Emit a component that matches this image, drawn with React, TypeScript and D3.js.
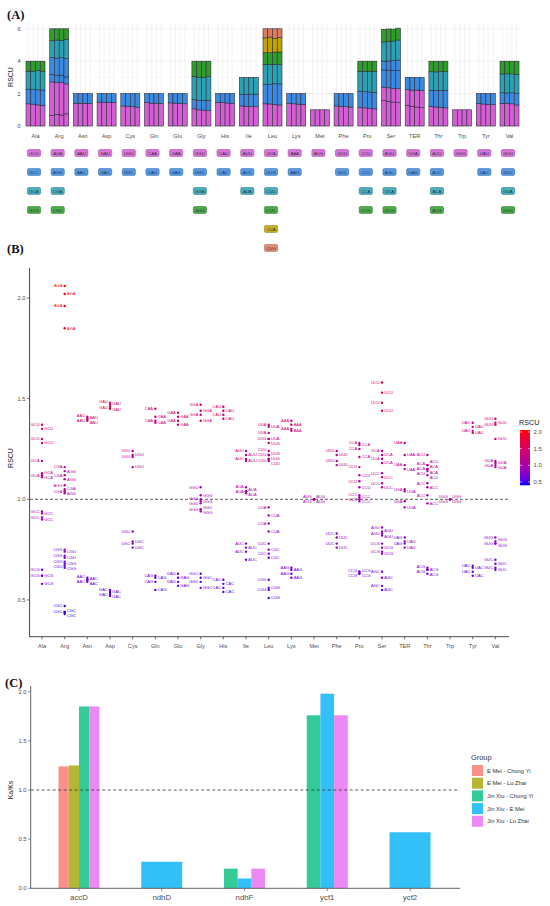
import React from "react";
import * as d3 from "d3";

// ---------------- DATA ----------------
const aminoAcids = ["Ala","Arg","Asn","Asp","Cys","Gln","Glu","Gly","His","Ile","Leu","Lys","Met","Phe","Pro","Ser","TER","Thr","Trp","Tyr","Val"];

// codon label boxes shown under panel A (one row per colour group)
const boxRows: string[][] = [
  ["GCU","GCC","GCA","GCG"],
  ["AGA","AGG","CGA","CGU"],
  ["AAU","AAC"],
  ["GAU","GAC"],
  ["UGU","UGC"],
  ["CAA","CAG"],
  ["GAA","GAG"],
  ["GGU","GGC","GGA","GGG"],
  ["CAU","CAC"],
  ["AUU","AUC","AUA"],
  ["UUA","UUG","CUU","CUC","CUA","CUG"],
  ["AAA","AAG"],
  ["AUG"],
  ["UUU","UUC"],
  ["CCU","CCC","CCA","CCG"],
  ["AGU","AGC","UCA","UCG"],
  ["UGA","UAG"],
  ["ACU","ACC","ACA","ACG"],
  ["UGG"],
  ["UAU","UAC"],
  ["GUU","GUC","GUA","GUG"],
];

// stacking order (bottom -> top) of codons in panel A
const stackCodons: string[][] = [
  ["GCU","GCC","GCA","GCG"],
  ["CGG","AGA","CGC","AGG","CGA","CGU"],
  ["AAU","AAC"],
  ["GAU","GAC"],
  ["UGU","UGC"],
  ["CAA","CAG"],
  ["GAA","GAG"],
  ["GGU","GGC","GGA","GGG"],
  ["CAU","CAC"],
  ["AUU","AUC","AUA"],
  ["UUA","UUG","CUU","CUC","CUA","CUG"],
  ["AAA","AAG"],
  ["AUG"],
  ["UUU","UUC"],
  ["CCU","CCC","CCA","CCG"],
  ["UCU","AGU","UCC","AGC","UCA","UCG"],
  ["UAA","UGA","UAG"],
  ["ACU","ACC","ACA","ACG"],
  ["UGG"],
  ["UAU","UAC"],
  ["GUU","GUC","GUA","GUG"],
];
// colour group of each stacked codon
const stackGroups: number[][] = [
  [0,1,2,3],
  [0,0,1,1,2,3],
  [0,1],[0,1],[0,1],[0,1],[0,1],
  [0,1,2,3],
  [0,1],
  [0,1,2],
  [0,1,2,3,4,5],
  [0,1],
  [0],
  [0,1],
  [0,1,2,3],
  [0,0,1,1,2,3],
  [0,0,1],
  [0,1,2,3],
  [0],
  [0,1],
  [0,1,2,3],
];

// RSCU of each codon in the four samples
const rscu: Record<string, number[]> = {
  GCU:[1.37,1.35,1.30,1.28], GCC:[0.90,0.91,0.93,0.94], GCA:[1.11,1.12,1.19,1.13], GCG:[0.62,0.62,0.58,0.65],
  AGA:[2.06,1.96,2.02,1.85], AGG:[1.03,1.07,1.10,1.14], CGA:[1.04,1.12,1.05,1.16], CGG:[0.66,0.72,0.68,0.75], CGU:[0.74,0.69,0.71,0.67], CGC:[0.47,0.44,0.44,0.43],
  AAU:[1.41,1.40,1.40,1.39], AAC:[0.59,0.60,0.60,0.61],
  GAU:[1.48,1.47,1.46,1.45], GAC:[0.52,0.53,0.54,0.55],
  UGU:[1.24,1.22,1.21,1.16], UGC:[0.76,0.78,0.79,0.84],
  CAA:[1.45,1.41,1.39,1.38], CAG:[0.55,0.59,0.61,0.62],
  GAA:[1.43,1.41,1.39,1.37], GAG:[0.57,0.59,0.61,0.63],
  GGU:[1.06,1.00,0.98,0.95], GGC:[0.56,0.59,0.61,0.63], GGA:[1.44,1.42,1.39,1.47], GGG:[0.94,0.99,1.02,0.95],
  CAU:[1.46,1.44,1.42,1.40], CAC:[0.54,0.56,0.58,0.60],
  AUU:[1.24,1.22,1.20,1.19], AUC:[0.70,0.74,0.76,0.78], AUA:[1.06,1.04,1.04,1.03],
  UUA:[1.37,1.36,1.33,1.30], UUG:[1.20,1.22,1.28,1.30], CUU:[1.24,1.22,1.20,1.19], CUC:[0.71,0.73,0.75,0.78], CUA:[0.92,0.96,0.84,0.88], CUG:[0.56,0.51,0.60,0.55],
  AAA:[1.39,1.37,1.35,1.34], AAG:[0.61,0.63,0.65,0.66],
  AUG:[1.00,1.00,1.00,1.00],
  UUU:[1.24,1.22,1.19,1.17], UUC:[0.76,0.78,0.81,0.83],
  CCU:[1.16,1.12,1.09,1.06], CCC:[0.99,1.00,1.01,1.02], CCA:[1.21,1.25,1.27,1.28], CCG:[0.64,0.63,0.63,0.64],
  UCU:[1.58,1.53,1.48,1.44], AGU:[0.82,0.83,0.84,0.86], UCC:[1.06,1.08,1.11,1.13], AGC:[0.55,0.57,0.61,0.64], UCA:[1.18,1.22,1.20,1.24], UCG:[0.78,0.76,0.74,0.73],
  UAA:[1.28,1.22,1.17,1.15], UGA:[0.96,0.99,1.05,1.04], UAG:[0.76,0.79,0.78,0.81],
  ACU:[1.22,1.17,1.14,1.12], ACC:[0.98,1.02,1.06,1.08], ACA:[1.15,1.15,1.15,1.17], ACG:[0.65,0.66,0.65,0.63],
  UGG:[1.00,1.00,1.00,1.00],
  UAU:[1.38,1.36,1.34,1.33], UAC:[0.62,0.64,0.66,0.67],
  GUU:[1.40,1.38,1.37,1.30], GUC:[0.65,0.66,0.68,0.70], GUA:[1.16,1.18,1.17,1.19], GUG:[0.79,0.78,0.78,0.81],
};

const ticksA = [0, 2, 4, 6];
const ticksB = [0.5, 1.0, 1.5, 2.0];
const colorbarTicks = [0.5, 1.0, 1.5, 2.0];

const genes = ["accD","ndhD","ndhF","ycf1","ycf2"];
const groupNames = ["E Mei - Chong Yi","E Mei - Lu Zhai","Jin Xiu - Chong Yi","Jin Xiu - E Mei","Jin Xiu - Lu Zhai"];
// Ka/Ks per gene for each group (null = absent)
const kaksAccD = [1.24, 1.25, 1.85, null, 1.85];
const kaksNdhD = [null, null, null, 0.27, null];
const kaksNdhF = [null, null, 0.20, 0.10, 0.20];
const kaksYcf1 = [null, null, 1.76, 1.98, 1.76];
const kaksYcf2 = [null, null, null, 0.57, null];
const kaksTicks = [0, 0.5, 1.0, 1.5, 2.0];

// ---------------- STYLE ----------------
const codonColors = ["#d45ed4", "#3b8ae2", "#2aa2b4", "#2f9d2b", "#c0a300", "#df7c5c"];
const groupColors = ["#F8766D", "#A3A500", "#00BF7D", "#00B0F6", "#E76BF3"];
const SANS = "'Liberation Sans', Arial, Helvetica, sans-serif";
const SERIF = "'Liberation Serif', 'Times New Roman', serif";
const AXIS_TXT = "#4d4d4d";

export default function App() {
  // ---------- Panel A ----------
  const xA = d3.scaleBand<string>().domain(aminoAcids).range([23.65, 521.35]);
  const yA = d3.scaleLinear().domain([0, 6]).range([126, 28.8]);
  const barW = 19;
  const subW = barW / 4;
  const facetW = 22;

  const panelA: JSX.Element[] = [];
  aminoAcids.forEach((aa) => {
    const cx = (xA(aa) as number) + xA.bandwidth() / 2;
    const fx0 = cx - facetW / 2;
    [1, 3, 5].forEach((t) =>
      panelA.push(<line key={`gm${aa}${t}`} x1={fx0} x2={fx0 + facetW} y1={yA(t)} y2={yA(t)} stroke="#f2f2f2" strokeWidth={0.4} />)
    );
    ticksA.forEach((t) =>
      panelA.push(<line key={`gh${aa}${t}`} x1={fx0} x2={fx0 + facetW} y1={yA(t)} y2={yA(t)} stroke="#e6e6e6" strokeWidth={0.5} />)
    );
    for (let s = 0; s < 4; s++) {
      const sx = cx - barW / 2 + subW * (s + 0.5);
      panelA.push(<line key={`gv${aa}${s}`} x1={sx} x2={sx} y1={23} y2={129} stroke="#e6e6e6" strokeWidth={0.5} />);
    }
  });
  aminoAcids.forEach((aa, i) => {
    const cx = (xA(aa) as number) + xA.bandwidth() / 2;
    for (let s = 0; s < 4; s++) {
      let acc = 0;
      const sx = cx - barW / 2 + subW * s;
      stackCodons[i].forEach((c, k) => {
        const v = rscu[c][s];
        const y0 = yA(acc);
        const y1 = yA(acc + v);
        acc += v;
        panelA.push(
          <rect key={`b${aa}${s}${c}`} x={sx} y={y1} width={subW} height={y0 - y1}
            fill={codonColors[stackGroups[i][k]]} stroke="#2e2e3a" strokeWidth={0.6} />
        );
      });
    }
    panelA.push(
      <text key={`xl${aa}`} x={cx} y={138} fontSize={5.6} fill={AXIS_TXT} textAnchor="middle" fontFamily={SANS}>{aa}</text>
    );
    boxRows[i].forEach((c, r) => {
      const by = 153 + r * 19;
      const col = codonColors[r];
      panelA.push(
        <g key={`bx${aa}${c}`}>
          <rect x={cx - 1.5 - 6.6} y={by - 3.4} width={13.2} height={6.8} rx={1.3}
            fill={col} fillOpacity={0.85} stroke={d3.color(col)!.darker(1).toString()} strokeWidth={0.5} />
          <text x={cx - 1.5} y={by} dy="0.35em" fontSize={4.3} fill="#2a2a40" textAnchor="middle" fontFamily={SANS}>{c}</text>
        </g>
      );
    });
  });

  // ---------- Panel B ----------
  const xB = d3.scalePoint<string>().domain(aminoAcids).range([42, 495.4]);
  const yB = d3.scaleLinear().domain([1, 2]).range([499.3, 298]);
  const vmin = 0.40, vmax = 2.06;
  const colorB = d3.scaleLinear<string>().domain([vmin, vmax]).range(["#0000ff", "#ff0000"]).interpolate(d3.interpolateLab).clamp(true);

  const bPoints: JSX.Element[] = [];
  const bLabels: JSX.Element[] = [];
  aminoAcids.forEach((aa, i) => {
    const x = xB(aa) as number;
    const pts = stackCodons[i].flatMap((c) => rscu[c].map((v) => ({ c, v })));
    pts.sort((a, b) => b.v - a.v);
    const sides: { c: string; v: number; py: number; ly: number }[][] = [[], []];
    pts.forEach((p, k) => {
      const py = yB(p.v);
      sides[k % 2].push({ ...p, py, ly: py });
    });
    const gap = 5.2;
    sides.forEach((arr) => {
      for (let it = 0; it < 100; it++) {
        arr.sort((a, b) => a.ly - b.ly);
        for (let j = 1; j < arr.length; j++) {
          const d = arr[j].ly - arr[j - 1].ly;
          if (d < gap) {
            const push = (gap - d) / 2 + 0.01;
            arr[j].ly += push;
            arr[j - 1].ly -= push;
          }
        }
      }
    });
    sides.forEach((arr, sIdx) => {
      arr.forEach((p, j) => {
        const left = sIdx === 0;
        bLabels.push(
          <text key={`bl${aa}${sIdx}${j}`} x={left ? x - 2.3 : x + 2.3} y={p.ly} dy="0.35em"
            fontSize={4.0} fill={colorB(p.v)} textAnchor={left ? "end" : "start"} fontFamily={SANS}>{p.c}</text>
        );
      });
    });
    pts.forEach((p, k) => {
      bPoints.push(<circle key={`bp${aa}${k}`} cx={x} cy={yB(p.v)} r={1.2} fill={colorB(p.v)} />);
    });
  });

  const cbScale = d3.scaleLinear().domain([vmin, vmax]).range([485.3, 430]);
  const gradStops = d3.range(0, 1.0001, 0.1).map((t) => ({ t, c: colorB(vmin + t * (vmax - vmin)) }));

  // ---------- Panel C ----------
  const xC = d3.scaleBand<string>().domain(genes).range([37.6, 451.4]);
  const yC = d3.scaleLinear().domain([0, 2]).range([888.3, 691.7]);
  const kaksAll = [kaksAccD, kaksNdhD, kaksNdhF, kaksYcf1, kaksYcf2];
  const barWC = 41;
  const cBars: JSX.Element[] = [];
  genes.forEach((g, gi) => {
    const cx = (xC(g) as number) + xC.bandwidth() / 2;
    const present = kaksAll[gi].map((v, k) => ({ v, k })).filter((d) => d.v !== null) as { v: number; k: number }[];
    const w = barWC / present.length;
    present.forEach((d, j) => {
      const x0 = cx - barWC / 2 + j * w;
      cBars.push(
        <rect key={`cb${g}${d.k}`} x={x0} y={yC(d.v)} width={w} height={yC(0) - yC(d.v)}
          fill={groupColors[d.k]} fillOpacity={0.8} />
      );
    });
  });

  return (
    <svg width={550} height={906} style={{ position: "absolute", left: 0, top: 0, background: "#fff" }} fontFamily={SANS}>
      <rect x={0} y={0} width={550} height={906} fill="#fff" />
      {/* ===== Panel A ===== */}
      <text x={7} y={19} fontSize={12.5} fontFamily={SERIF} fontWeight="bold" fill="#111">(A)</text>
      {panelA}
      {ticksA.map((t) => (
        <text key={`ay${t}`} x={20.5} y={yA(t)} dy="0.35em" fontSize={5.6} fill={AXIS_TXT} textAnchor="end">{t}</text>
      ))}
      <text transform={`translate(13,77) rotate(-90)`} fontSize={7} fill="#222" textAnchor="middle">RSCU</text>

      {/* ===== Panel B ===== */}
      <text x={7} y={253} fontSize={12.5} fontFamily={SERIF} fontWeight="bold" fill="#111">(B)</text>
      <line x1={30} x2={508} y1={yB(1)} y2={yB(1)} stroke="#333" strokeWidth={0.8} strokeDasharray="3,2" />
      {bLabels}
      {bPoints}
      <line x1={29.6} x2={29.6} y1={268} y2={637} stroke="#333" strokeWidth={0.9} />
      <line x1={29.6} x2={509} y1={636.7} y2={636.7} stroke="#333" strokeWidth={0.9} />
      {ticksB.map((t) => (
        <g key={`by${t}`}>
          <line x1={27} x2={29.6} y1={yB(t)} y2={yB(t)} stroke="#333" strokeWidth={0.7} />
          <text x={25.5} y={yB(t)} dy="0.35em" fontSize={5.8} fill={AXIS_TXT} textAnchor="end">{t.toFixed(1)}</text>
        </g>
      ))}
      {aminoAcids.map((aa) => (
        <g key={`bx${aa}`}>
          <line x1={xB(aa)} x2={xB(aa)} y1={636.7} y2={639.3} stroke="#333" strokeWidth={0.7} />
          <text x={xB(aa)} y={648} fontSize={5.6} fill={AXIS_TXT} textAnchor="middle">{aa}</text>
        </g>
      ))}
      <text transform={`translate(13,458) rotate(-90)`} fontSize={7} fill="#222" textAnchor="middle">RSCU</text>
      <defs>
        <linearGradient id="cbgrad" x1="0" y1="1" x2="0" y2="0">
          {gradStops.map((s) => (
            <stop key={s.t} offset={`${s.t * 100}%`} stopColor={s.c} />
          ))}
        </linearGradient>
      </defs>
      <text x={519} y={425} fontSize={7.2} fill="#222">RSCU</text>
      <rect x={520} y={cbScale(vmax)} width={10} height={cbScale(vmin) - cbScale(vmax)} fill="url(#cbgrad)" />
      {colorbarTicks.map((t) => (
        <g key={`cb${t}`}>
          <line x1={520} x2={522} y1={cbScale(t)} y2={cbScale(t)} stroke="#fff" strokeWidth={0.6} />
          <line x1={528} x2={530} y1={cbScale(t)} y2={cbScale(t)} stroke="#fff" strokeWidth={0.6} />
          <text x={533.5} y={cbScale(t)} dy="0.35em" fontSize={6} fill={AXIS_TXT}>{t.toFixed(1)}</text>
        </g>
      ))}

      {/* ===== Panel C ===== */}
      <text x={5} y={687} fontSize={12.5} fontFamily={SERIF} fontWeight="bold" fill="#111">(C)</text>
      {cBars}
      <line x1={30.7} x2={460} y1={yC(1)} y2={yC(1)} stroke="#333" strokeWidth={0.8} strokeDasharray="3,2.5" />
      <line x1={30.7} x2={30.7} y1={686} y2={888.3} stroke="#555" strokeWidth={0.9} />
      <line x1={30.7} x2={460} y1={888.3} y2={888.3} stroke="#555" strokeWidth={0.9} />
      {kaksTicks.map((t) => (
        <g key={`cy${t}`}>
          <line x1={28.2} x2={30.7} y1={yC(t)} y2={yC(t)} stroke="#555" strokeWidth={0.7} />
          <text x={26.5} y={yC(t)} dy="0.35em" fontSize={5.8} fill={AXIS_TXT} textAnchor="end">{t.toFixed(1)}</text>
        </g>
      ))}
      {genes.map((g) => {
        const cx = (xC(g) as number) + xC.bandwidth() / 2;
        return (
          <g key={`cx${g}`}>
            <line x1={cx} x2={cx} y1={888.3} y2={891} stroke="#555" strokeWidth={0.7} />
            <text x={cx} y={900} fontSize={7.8} fill={AXIS_TXT} textAnchor="middle">{g}</text>
          </g>
        );
      })}
      <text transform={`translate(13,790) rotate(-90)`} fontSize={7} fill="#222" textAnchor="middle">Ka/Ks</text>
      <text x={471} y={760} fontSize={7.4} fill="#333">Group</text>
      {groupNames.map((n, k) => (
        <g key={`lg${n}`}>
          <rect x={472} y={765 + k * 12.7} width={11} height={11} fill={groupColors[k]} fillOpacity={0.8} />
          <text x={487} y={770.5 + k * 12.7} dy="0.35em" fontSize={5.8} fill="#333">{n}</text>
        </g>
      ))}
    </svg>
  );
}
